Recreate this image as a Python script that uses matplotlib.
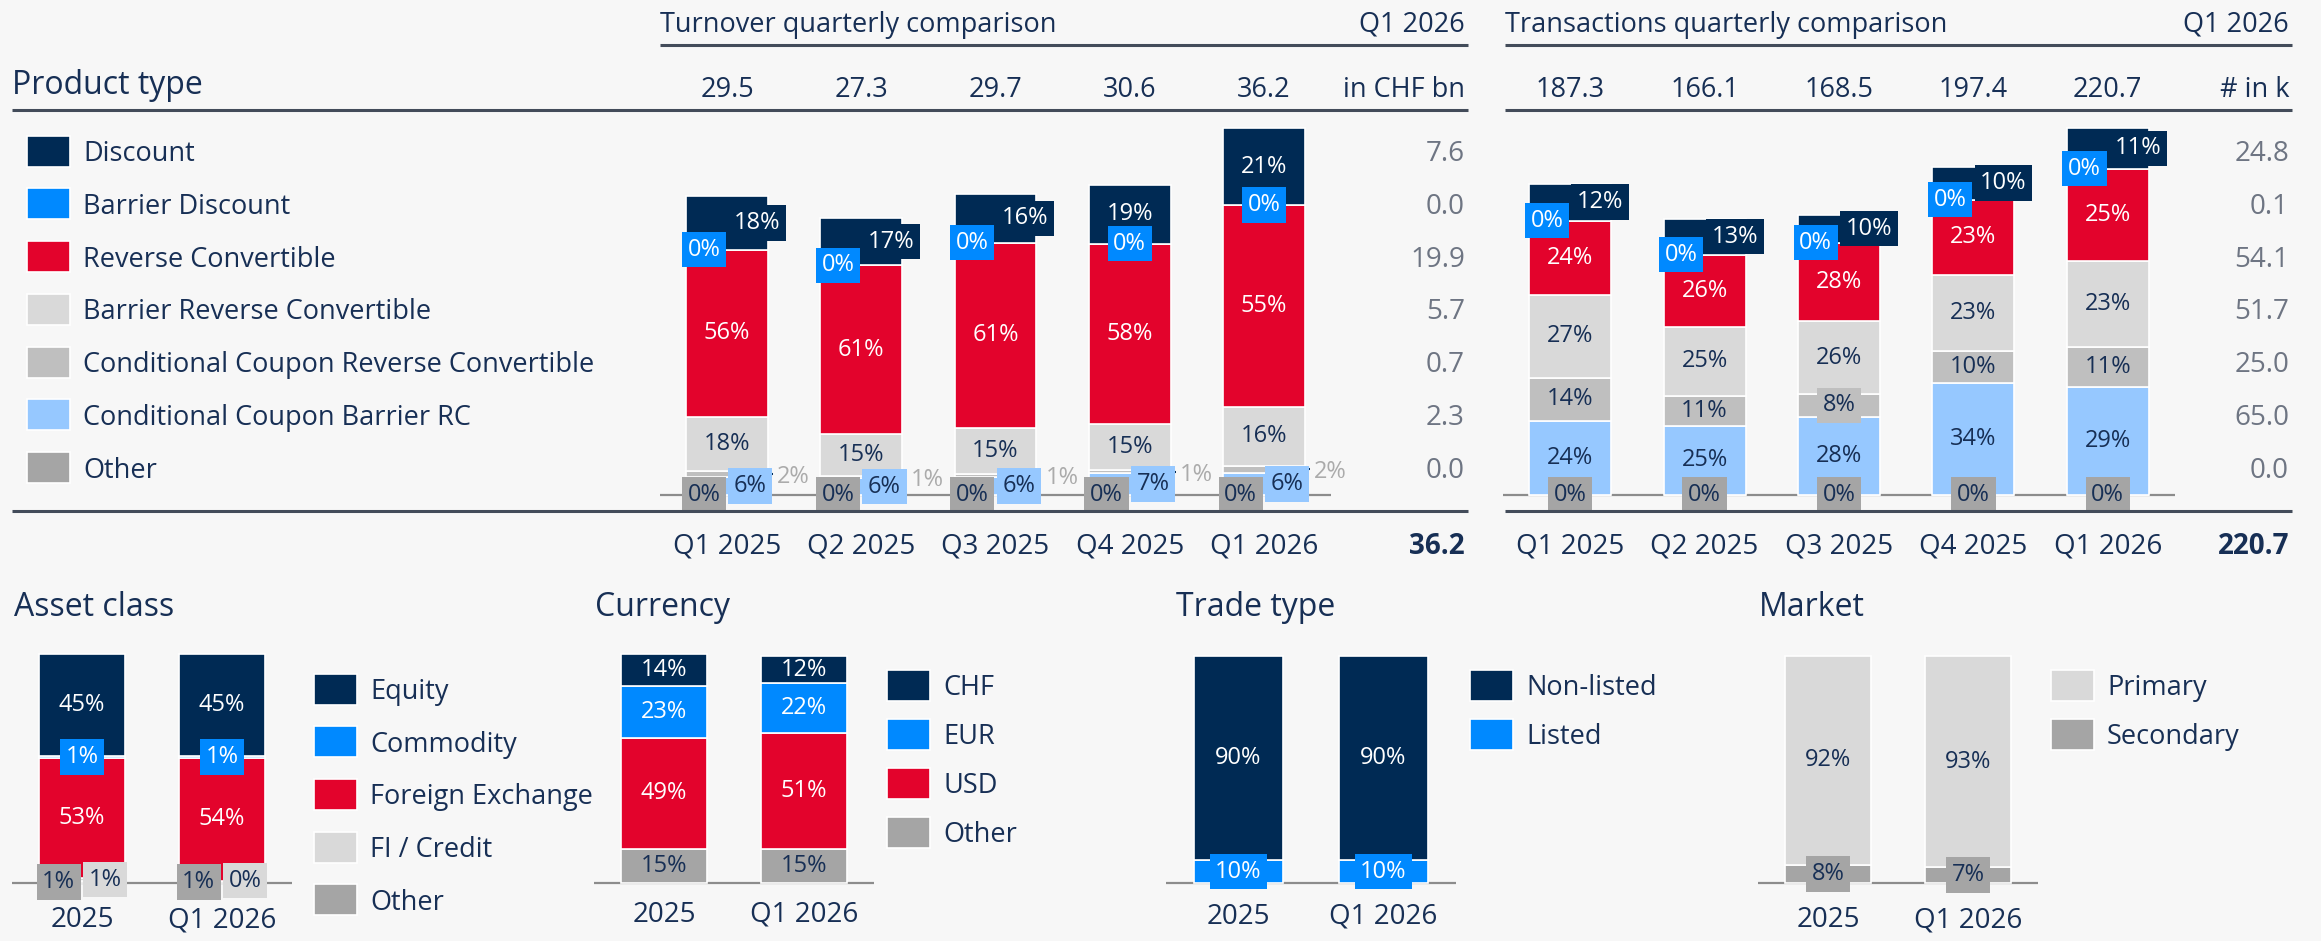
import numpy as np
import matplotlib
matplotlib.use("Agg")
import matplotlib.pyplot as plt
import matplotlib.transforms as mtransforms
from matplotlib.lines import Line2D
from matplotlib.patches import Rectangle

# ---------------- data ----------------
quarters = ["Q1 2025", "Q2 2025", "Q3 2025", "Q4 2025", "Q1 2026"]
product_types = [
    "Discount",
    "Barrier Discount",
    "Reverse Convertible",
    "Barrier Reverse Convertible",
    "Conditional Coupon Reverse Convertible",
    "Conditional Coupon Barrier RC",
    "Other",
]

# turnover in CHF bn, shares in % (one row per product type)
turnover_total = [29.5, 27.3, 29.7, 30.6, 36.2]
turnover_share = [
    [18, 17, 16, 19, 21],
    [0, 0, 0, 0, 0],
    [56, 61, 61, 58, 55],
    [18, 15, 15, 15, 16],
    [2, 1, 1, 1, 2],
    [6, 6, 6, 7, 6],
    [0, 0, 0, 0, 0],
]
turnover_latest = [7.6, 0.0, 19.9, 5.7, 0.7, 2.3, 0.0]

# transactions in thousands
transactions_total = [187.3, 166.1, 168.5, 197.4, 220.7]
transactions_share = [
    [12, 13, 10, 10, 11],
    [0, 0, 0, 0, 0],
    [24, 26, 28, 23, 25],
    [27, 25, 26, 23, 23],
    [14, 11, 8, 10, 11],
    [24, 25, 28, 34, 29],
    [0, 0, 0, 0, 0],
]
transactions_latest = [24.8, 0.1, 54.1, 51.7, 25.0, 65.0, 0.0]

periods = ["2025", "Q1 2026"]
asset_classes = ["Equity", "Commodity", "Foreign Exchange", "FI / Credit", "Other"]
asset_share = [[45, 45], [1, 1], [53, 54], [1, 0], [1, 1]]
currencies = ["CHF", "EUR", "USD", "Other"]
currency_share = [[14, 12], [23, 22], [49, 51], [15, 15]]
trade_types = ["Non-listed", "Listed"]
trade_share = [[90, 90], [10, 10]]
markets = ["Primary", "Secondary"]
market_share = [[92, 93], [8, 7]]

# ---------------- style ----------------
NAVY = "#002a54"
BLUE = "#0089ff"
RED = "#e3032c"
LGRAY = "#d9d9d9"
MGRAY = "#bfbfbf"
LBLUE = "#96c8ff"
DGRAY = "#a5a5a5"
TXT = "#172f55"
NUM_GRAY = "#6e7583"
OUT_GRAY = "#ababab"
RULE = "#434c5a"
BASE = "#8c8c8c"
BG = "#f7f7f7"
WHITE = "white"

product_colors = [NAVY, BLUE, RED, LGRAY, MGRAY, LBLUE, DGRAY]
product_txt = [WHITE, WHITE, WHITE, TXT, TXT, TXT, TXT]

plt.rcParams["font.family"] = ["Open Sans", "DejaVu Sans"]

W, H = 2321, 941
fig = plt.figure(figsize=(W / 100, H / 100), dpi=100)
fig.patch.set_facecolor(BG)

BAR_W = 0.61
LABEL_FS = 17
LABEL_PAD = 0.24
HEAD_FS = 19.5
TITLE_FS = 23
TICK_FS = 20
TEXT_DY = 3  # px, optical correction for va="center"


def fx(px):
    return px / W


def fy(py):
    return 1 - py / H


def ty(py):
    return fy(py + TEXT_DY)


def hline(x0, x1, y, color=RULE, lw=2.2):
    fig.add_artist(Line2D([fx(x0), fx(x1)], [fy(y), fy(y)], color=color, lw=lw,
                          transform=fig.transFigure, solid_capstyle="butt"))


def px_axes(left, top, right, bottom):
    ax = fig.add_axes([left / W, 1 - bottom / H, (right - left) / W, (bottom - top) / H])
    ax.set_facecolor("none")
    ax.axis("off")
    return ax


def layout(cy, gap=28):
    # cy: label centres in px above baseline, bottom-up
    place = [None] * len(cy)

    def clash(i, pos):
        for j in range(i):
            pj = place[j]
            if pj == "out" or abs(cy[i] - cy[j]) >= gap:
                continue
            if {pos, pj} == {"l", "r"}:
                continue
            return True
        return False

    for i in range(len(cy)):
        if not clash(i, "c"):
            place[i] = "c"
            continue
        near = [j for j in range(i) if place[j] == "c" and abs(cy[i] - cy[j]) < gap]
        if near:
            for j in near:
                place[j] = "l"
            if not clash(i, "r"):
                place[i] = "r"
                continue
            for j in near:
                place[j] = "c"
        if not clash(i, "r"):
            place[i] = "r"
        elif not clash(i, "l"):
            place[i] = "l"
        else:
            place[i] = "out"
    return place


def stacked(ax, shares, colors, txtcolors, px_x, px_y, totals=None):
    shares = np.array(shares, dtype=float)
    n_bars = shares.shape[1]
    x = np.arange(n_bars)
    sums = shares.sum(axis=0)
    scale = np.array(totals) / sums if totals is not None else np.ones(n_bars)
    bottoms = np.zeros(n_bars)
    segs = []
    for s in reversed(range(len(shares))):
        h = shares[s] * scale
        ax.bar(x, h, BAR_W, bottom=bottoms, color=colors[s], edgecolor=WHITE,
               linewidth=1.2, zorder=2)
        segs.append((s, bottoms + h / 2, h))
        bottoms = bottoms + h
    ax.axhline(0, color=BASE, lw=1.6, zorder=1)
    off = (LABEL_FS * LABEL_PAD + 0.8)
    for b in range(n_bars):
        place = layout([c[b] * px_y for s, c, h in segs])
        for (s, c, h), pos in zip(segs, place):
            txt = f"{shares[s][b]:.0f}%"
            if pos == "out":
                xr = b + BAR_W / 2
                ax.plot([xr, xr + 5 / px_x], [c[b], c[b]], color=NAVY, lw=1.5,
                        solid_capstyle="butt", zorder=3)
                ax.text(xr + 9 / px_x, c[b], txt, color=OUT_GRAY, ha="left",
                        va="center_baseline", fontsize=LABEL_FS, zorder=4)
                continue
            dx, ha = {"c": (0, "center"), "l": (-off, "right"), "r": (off, "left")}[pos]
            box = None
            if pos != "c" or h[b] * px_y < 25:
                box = dict(boxstyle=f"square,pad={LABEL_PAD}", fc=colors[s], ec="none")
            ax.annotate(txt, (b, c[b]), xytext=(dx, 0), textcoords="offset points",
                        ha=ha, va="center", color=txtcolors[s], fontsize=LABEL_FS,
                        bbox=box, zorder=4, annotation_clip=False)


def legend(x0, y0, dy, names, colors, fs=HEAD_FS):
    for i, (name, col) in enumerate(zip(names, colors)):
        yc = y0 + dy * i
        fig.add_artist(Rectangle((fx(x0), fy(yc + 15.5)), 43 / W, 31 / H, transform=fig.transFigure,
                                 facecolor=col, edgecolor=WHITE, lw=1.2))
        fig.text(fx(x0 + 56), ty(yc), name, ha="left", va="center", fontsize=fs, color=TXT)


# ---------------- product type (top) ----------------
fig.text(fx(12), ty(83), "Product type", ha="left", va="center", fontsize=TITLE_FS, color=TXT)
legend(27, 151, 52.8, product_types, product_colors)

top_panels = [
    ("Turnover quarterly comparison", "in CHF bn", turnover_total, turnover_share,
     turnover_latest, 660, 1331, 660, 1468),
    ("Transactions quarterly comparison", "# in k", transactions_total, transactions_share,
     transactions_latest, 1503, 2175, 1505, 2292),
]

hline(12, 1468, 110)
hline(12, 1468, 511)
for idx, (title, unit, totals, shares, latest, left, right, lstart, rend) in enumerate(top_panels):
    rtxt = rend - 3
    fig.text(fx(lstart), ty(22), title, ha="left", va="center", fontsize=HEAD_FS, color=TXT)
    fig.text(fx(rtxt), ty(22), quarters[-1], ha="right", va="center", fontsize=HEAD_FS, color=TXT)
    hline(lstart, rend, 45)
    if idx == 1:
        hline(lstart, rend, 110)
        hline(lstart, rend, 511)
    fig.text(fx(rtxt), ty(87), unit, ha="right", va="center", fontsize=HEAD_FS, color=TXT)

    ax = px_axes(left, 110, right, 511)
    px_x = (right - left) / len(totals)
    px_y = 367 / max(totals)
    ax.set_xlim(-0.5, len(totals) - 0.5)
    ax.set_ylim(-(511 - 495) / px_y, (495 - 110) / px_y)
    stacked(ax, shares, product_colors, product_txt, px_x, px_y, totals=totals)

    tr = mtransforms.blended_transform_factory(ax.transData, fig.transFigure)
    for i, v in enumerate(totals):
        ax.text(i, ty(87), f"{v:.1f}", transform=tr, ha="center", va="center",
                fontsize=HEAD_FS, color=TXT, clip_on=False)
    for i, q in enumerate(quarters):
        ax.text(i, ty(543), q, transform=tr, ha="center", va="center",
                fontsize=TICK_FS, color=TXT, clip_on=False)
    fig.text(fx(rtxt), ty(543), f"{totals[-1]:.1f}", ha="right", va="center",
             fontsize=TICK_FS, color=TXT, fontweight="bold")
    for i, v in enumerate(latest):
        fig.text(fx(rtxt), ty(151 + 52.8 * i), f"{v:.1f}", ha="right", va="center",
                 fontsize=TICK_FS, color=NUM_GRAY)

# ---------------- bottom panels ----------------
bottom_panels = [
    ("Asset class", asset_classes, asset_share, [NAVY, BLUE, RED, LGRAY, DGRAY],
     [WHITE, WHITE, WHITE, TXT, TXT], 12, 292, 14, 314, 689, 52.7, 917),
    ("Currency", currencies, currency_share, [NAVY, BLUE, RED, DGRAY],
     [WHITE, WHITE, WHITE, TXT], 594, 874, 595, 887, 685, 49, 912),
    ("Trade type", trade_types, trade_share, [NAVY, BLUE],
     [WHITE, WHITE], 1166, 1456, 1176, 1470, 685, 49, 914),
    ("Market", markets, market_share, [LGRAY, DGRAY],
     [TXT, TXT], 1758, 2038, 1759, 2051, 685, 49, 917),
]

for title, names, shares, colors, tcols, left, right, tx, lx, ly, ldy, laby in bottom_panels:
    fig.text(fx(tx), ty(605), title, ha="left", va="center", fontsize=TITLE_FS, color=TXT)
    ax = px_axes(left, 640, right, 941)
    px_x = (right - left) / len(periods)
    px_y = 227 / 100
    ax.set_xlim(-0.5, len(periods) - 0.5)
    ax.set_ylim(-(941 - 883) / px_y, (883 - 640) / px_y)
    stacked(ax, shares, colors, tcols, px_x, px_y)
    tr = mtransforms.blended_transform_factory(ax.transData, fig.transFigure)
    for i, p in enumerate(periods):
        ax.text(i, ty(laby), p, transform=tr, ha="center", va="center",
                fontsize=TICK_FS, color=TXT, clip_on=False)
    legend(lx, ly, ldy, names, colors)

fig.savefig("out.png", dpi=100, facecolor=BG)
